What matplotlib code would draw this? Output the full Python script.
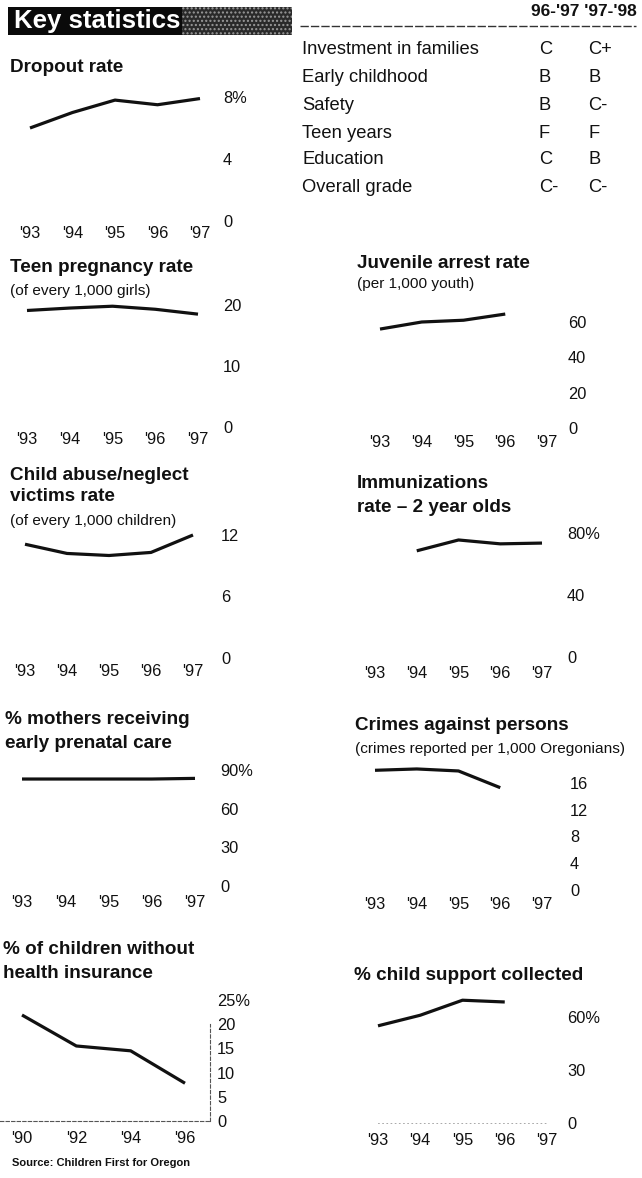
import numpy as np
import matplotlib
matplotlib.use("Agg")
import matplotlib.pyplot as plt
from matplotlib.patches import Rectangle
from matplotlib.lines import Line2D

plt.rcParams['font.family'] = ['Liberation Sans', 'DejaVu Sans']

W, H = 642, 1178

# ---------------- data ----------------
years = [1993, 1994, 1995, 1996, 1997]
year_labels = ["'93", "'94", "'95", "'96", "'97"]
ins_years = [1990, 1992, 1994, 1996]
ins_labels = ["'90", "'92", "'94", "'96"]

dropout = [6.0, 7.0, 7.8, 7.5, 7.9]
teen_pregnancy = [19.1, 19.5, 19.8, 19.3, 18.5]
child_abuse = [11.1, 10.2, 10.0, 10.3, 12.0]
prenatal_care = [83, 83, 83, 83, 83.5]
no_insurance = [21.9, 15.5, 14.5, 7.8]
juvenile_arrest = [56, 60, 61, 64.5, np.nan]
immunization = [np.nan, 68.5, 75.5, 73, 73.5]
crimes_persons = [17.9, 18.1, 17.8, 15.3, np.nan]
child_support = [55, 61, 69.5, 68.5, np.nan]

categories = ["Investment in families", "Early childhood", "Safety",
              "Teen years", "Education", "Overall grade"]
grades_9697 = ["C", "B", "B", "F", "C", "C-"]
grades_9798 = ["C+", "B", "C-", "F", "B", "C-"]
grade_headers = ["96-'97", "'97-'98"]

# ---------------- figure ----------------
fig = plt.figure(figsize=(W / 100, H / 100), dpi=100)
fig.patch.set_facecolor("white")

PX = 0.72  # points per pixel at dpi 100
INK = "#111111"
TITLE = 13.6
SUB = 11.1
TICK = 11.8
TABLE = 13.2


def fx(x):
    return x / W


def fy(y):
    return 1 - y / H


def text(x, y, s, size, bold=False, **kw):
    fig.text(fx(x), fy(y), s, fontsize=size,
             fontweight="bold" if bold else "normal", color=INK,
             va=kw.pop("va", "center"), ha=kw.pop("ha", "left"), **kw)


def panel(x_first, x_last, y_zero, y_top, xs, vals, ymax, yticks, ylabels,
          xticks, xlabels, ylab_x, xlab_y, xlim=None):
    ax = fig.add_axes([fx(x_first), fy(y_zero), (x_last - x_first) / W,
                       (y_zero - y_top) / H])
    ax.set_facecolor("none")
    if xlim is None:
        xlim = (xs[0], xs[-1])
    ax.set_xlim(*xlim)
    ax.set_ylim(0, ymax)
    ax.plot(xs, vals, color=INK, lw=2.3, clip_on=False,
            solid_capstyle="butt", solid_joinstyle="round")
    for s in ax.spines.values():
        s.set_visible(False)
    ax.yaxis.tick_right()
    ax.set_yticks(yticks, ylabels)
    ax.tick_params(axis="y", length=0, pad=(ylab_x - x_last) * PX,
                   labelsize=TICK, labelcolor=INK)
    ax.set_xticks(xticks, xlabels)
    ax.tick_params(axis="x", length=0, pad=(xlab_y - 7 - y_zero) * PX,
                   labelsize=TICK, labelcolor=INK)
    return ax


# ---------------- banner ----------------
fig.patches.append(Rectangle((fx(8), fy(35)), (292 - 8) / W, 28 / H,
                             transform=fig.transFigure, facecolor="#0a0a0a",
                             edgecolor="none"))
fig.patches.append(Rectangle((fx(182), fy(35)), (292 - 182) / W, 28 / H,
                             transform=fig.transFigure, facecolor="#2a2a2a",
                             edgecolor="#9a9a9a", hatch="....", lw=0))
fig.text(fx(14), fy(21), "Key statistics", fontsize=18.5, fontweight="bold",
         color="white", va="center", ha="left")

# ---------------- grades table ----------------
text(584, 11, grade_headers[0] + " " + grade_headers[1], 12.5, bold=True,
     ha="center")
fig.add_artist(Line2D([fx(300), fx(636)], [fy(26), fy(26)],
                      transform=fig.transFigure, color="#333333", lw=1.0,
                      ls=(0, (6, 1.5))))
row_y = [50, 78, 105, 133, 160, 188]
for cat, g1, g2, ry in zip(categories, grades_9697, grades_9798, row_y):
    text(302, ry, cat, TABLE)
    text(539, ry, g1, TABLE)
    text(588, ry, g2, TABLE)

# ---------------- left column ----------------
text(10, 68, "Dropout rate", TITLE, bold=True)
panel(30, 200, 221, 97, years, dropout, 8, [0, 4, 8], ["0", "4", "8%"],
      years, year_labels, 223, 233)

text(10, 267, "Teen pregnancy rate", TITLE, bold=True)
text(10, 291, "(of every 1,000 girls)", SUB)
panel(27, 198, 427, 305, years, teen_pregnancy, 20, [0, 10, 20],
      ["0", "10", "20"], years, year_labels, 223, 439)

text(10, 475, "Child abuse/neglect", TITLE, bold=True)
text(10, 497, "victims rate", TITLE, bold=True)
text(10, 521, "(of every 1,000 children)", SUB)
panel(25, 193, 658, 535, years, child_abuse, 12, [0, 6, 12],
      ["0", "6", "12"], years, year_labels, 221, 671)

text(5, 720, "% mothers receiving", TITLE, bold=True)
text(5, 743, "early prenatal care", TITLE, bold=True)
panel(22, 195, 886, 770, years, prenatal_care, 90, [0, 30, 60, 90],
      ["0", "30", "60", "90%"], years, year_labels, 220, 902)

text(3, 950, "% of children without", TITLE, bold=True)
text(3, 973, "health insurance", TITLE, bold=True)
# axes spans 0..210 px; 1990 -> 22 px, 1996 -> 185 px
yr_per_px = (1996 - 1990) / (185 - 22)
ax_h = panel(0, 210, 1121, 1000, ins_years, no_insurance, 25,
             [0, 5, 10, 15, 20, 25], ["0", "5", "10", "15", "20", "25%"],
             ins_years, ins_labels, 217, 1138,
             xlim=(1990 - 22 * yr_per_px, 1996 + 25 * yr_per_px))
for side in ("bottom", "right"):
    sp = ax_h.spines[side]
    sp.set_visible(True)
    sp.set_color("#555555")
    sp.set_linewidth(0.8)
    sp.set_linestyle((0, (3, 2)))
ax_h.spines["right"].set_bounds(0, 20)
text(12, 1163, "Source: Children First for Oregon", 8, bold=True)

# ---------------- right column ----------------
text(357, 264, "Juvenile arrest rate", TITLE, bold=True)
text(357, 284, "(per 1,000 youth)", SUB)
panel(380, 547, 428, 322, years, juvenile_arrest, 60, [0, 20, 40, 60],
      ["0", "20", "40", "60"], years, year_labels, 568, 442)

text(357, 484, "Immunizations", TITLE, bold=True)
text(357, 507, "rate \u2013 2 year olds", TITLE, bold=True)
panel(375, 542, 657, 533, years, immunization, 80, [0, 40, 80],
      ["0", "40", "80%"], years, year_labels, 567, 673)

text(355, 725, "Crimes against persons", TITLE, bold=True)
text(355, 749, "(crimes reported per 1,000 Oregonians)", SUB)
panel(375, 542, 890, 783, years, crimes_persons, 16, [0, 4, 8, 12, 16],
      ["0", "4", "8", "12", "16"], years, year_labels, 570, 904)

text(354, 975, "% child support collected", TITLE, bold=True)
ax_s = panel(378, 547, 1123, 1017, years, child_support, 60, [0, 30, 60],
             ["0", "30", "60%"], years, year_labels, 567, 1140)
sp = ax_s.spines["bottom"]
sp.set_visible(True)
sp.set_color("#9a9a9a")
sp.set_linewidth(0.6)
sp.set_linestyle((0, (1, 4)))

fig.savefig("out.png", dpi=100)
